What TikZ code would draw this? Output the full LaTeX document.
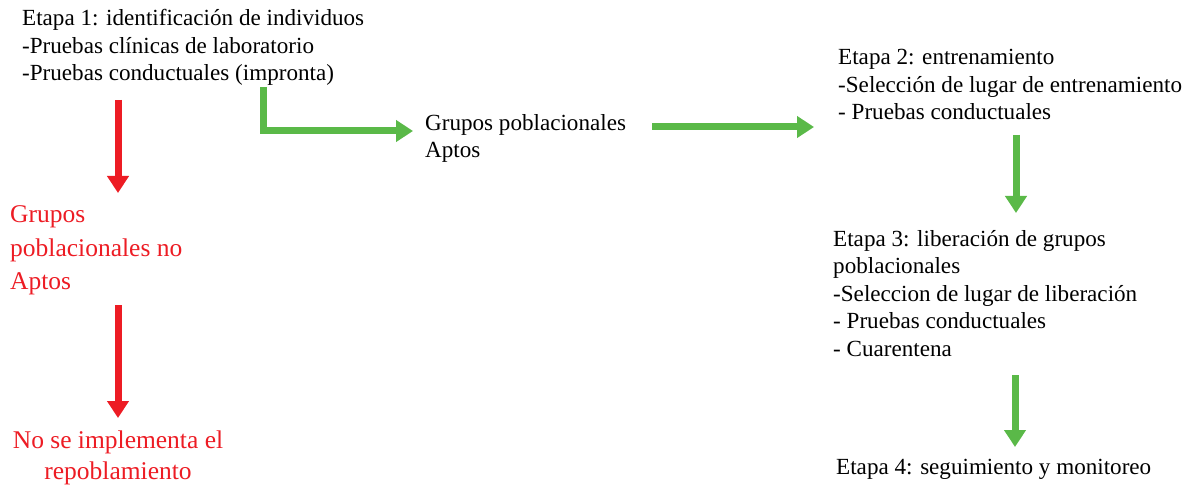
\documentclass[tikz,border=0pt]{standalone}
\usepackage{fontspec}
\setmainfont{Liberation Serif}
\usetikzlibrary{arrows.meta}
\definecolor{flred}{RGB}{237,28,36}
\definecolor{flgreen}{RGB}{90,185,72}
\begin{document}
\begin{tikzpicture}[x=1pt,y=-1pt,
  blk/.style={anchor=base west,inner sep=0pt,align=left,font=\fontsize{23.1}{27.5}\selectfont},
  redblk/.style={anchor=base west,inner sep=0pt,align=left,text=flred,font=\fontsize{25.5}{33.5}\selectfont},
  redarr/.style={draw=flred,line width=7pt,-{Triangle[length=17pt,width=21pt]}},
  greenarr/.style={draw=flgreen,line width=7pt,-{Triangle[length=17pt,width=21pt]}}]
\useasboundingbox (0,0) rectangle (1188,486);
\fill[white] (0,0) rectangle (1188,486);
% text blocks (anchor = baseline of the last line)
\node[blk] (e1) at (22,81) {Etapa 1: identificación de individuos\\-Pruebas clínicas de laboratorio\\-Pruebas conductuales (impronta)};
\node[blk] (apt) at (425,158) {Grupos poblacionales\\Aptos};
\node[blk] (e2) at (838,120) {Etapa 2: entrenamiento\\-Selección de lugar de entrenamiento\\- Pruebas conductuales};
\node[blk] (e3) at (833,356) {Etapa 3: liberación de grupos\\poblacionales\\-Seleccion de lugar de liberación\\- Pruebas conductuales\\- Cuarentena};
\node[blk] (e4) at (836,474) {Etapa 4: seguimiento y monitoreo};
\node[redblk] (noapt) at (10,290) {Grupos\\poblacionales no\\Aptos};
\node[anchor=base,inner sep=0pt,align=center,text=flred,font=\fontsize{25.5}{31}\selectfont] (noimp) at (118,479) {No se implementa el\\repoblamiento};
% arrow end points
\coordinate (r1s) at (118,100);
\coordinate (r1e) at (118,193);
\coordinate (r2s) at (118,305);
\coordinate (r2e) at (118,418);
\coordinate (g1s) at (263,87);
\coordinate (g1e) at (413,131);
\coordinate (g2s) at (652,127);
\coordinate (g2e) at (814,127);
\coordinate (g3s) at (1016,135);
\coordinate (g3e) at (1016,213);
\coordinate (g4s) at (1015,375);
\coordinate (g4e) at (1015,447);
% arrows
\draw[redarr] (r1s) -- (r1e);
\draw[redarr] (r2s) -- (r2e);
\draw[greenarr] (g1s) |- (g1e);
\draw[greenarr] (g2s) -- (g2e);
\draw[greenarr] (g3s) -- (g3e);
\draw[greenarr] (g4s) -- (g4e);
\end{tikzpicture}
\end{document}
